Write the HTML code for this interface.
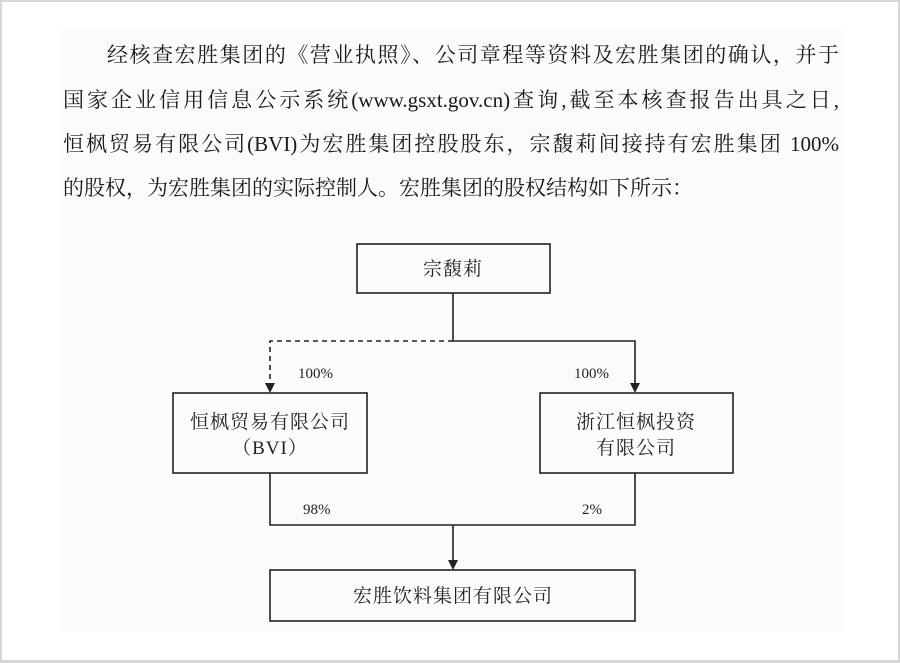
<!DOCTYPE html>
<html><head><meta charset="utf-8"><style>
body{margin:0;width:900px;height:662px;background:#fff;position:relative;overflow:hidden;font-family:"Liberation Serif","Noto Serif CJK SC",serif;color:#1a1a1a}
.frame{position:absolute;left:0;top:0;width:896px;height:658px;border:2px solid #d6d6d6;border-right-width:3px;border-bottom-width:3px;box-sizing:content-box}
.tint{position:absolute;left:60px;top:30px;width:783px;height:601px;background:#fafbfd}
.ln{position:absolute;font-size:21px;line-height:24px;white-space:nowrap;text-align:justify;text-align-last:justify}
svg{position:absolute;left:0;top:0}
</style></head><body>
<div class="frame"></div>
<div class="tint"></div>
<div class="ln" style="left:107px;top:43px;width:732px">经核查宏胜集团的《营业执照》、公司章程等资料及宏胜集团的确认，并于</div>
<div class="ln" style="left:63px;top:88px;width:776px">国家企业信用信息公示系统(www.gsxt.gov.cn)查询,截至本核查报告出具之日,</div>
<div class="ln" style="left:63px;top:132px;width:776px">恒枫贸易有限公司(BVI)为宏胜集团控股股东，宗馥莉间接持有宏胜集团 100%</div>
<div class="ln" style="left:63px;top:176px;text-align-last:auto">的股权，为宏胜集团的实际控制人。宏胜集团的股权结构如下所示：</div>
<svg width="900" height="662" font-family="Liberation Serif, Noto Serif CJK SC, serif" fill="none" stroke="#222" stroke-width="1.6">
<rect x="357" y="244" width="193" height="49"/>
<rect x="173" y="393" width="194" height="80"/>
<rect x="540" y="393" width="193" height="80"/>
<rect x="270" y="570" width="365" height="51"/>
<path d="M453 293V341H635V385"/>
<path d="M453 341H270V385" stroke-dasharray="5,4"/>
<path d="M270 473V525H635V473M453 525V562"/>
<g fill="#222" stroke="none">
<path d="M265 383h10l-5 10z"/><path d="M630 383h10l-5 10z"/><path d="M448 560h10l-5 10z"/>
<g font-size="19" text-anchor="middle" letter-spacing="1">
<text x="453" y="275">宗馥莉</text>
<text x="270" y="428">恒枫贸易有限公司</text>
<text x="270" y="454">（BVI）</text>
<text x="636" y="428">浙江恒枫投资</text>
<text x="636" y="454">有限公司</text>
<text x="453" y="602">宏胜饮料集团有限公司</text>
</g>
<g font-size="15">
<text x="298" y="378">100%</text>
<text x="574" y="378">100%</text>
<text x="303" y="514">98%</text>
<text x="582" y="514">2%</text>
</g></g>
</svg>
</body></html>
